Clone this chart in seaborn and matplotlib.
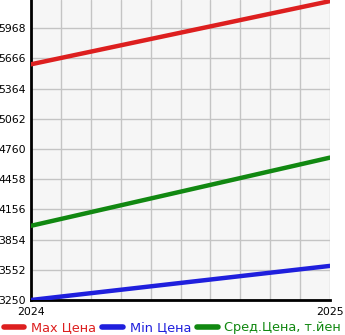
import matplotlib
matplotlib.use("Agg")
import matplotlib.pyplot as plt
import seaborn as sns
import pandas as pd
import numpy as np
from matplotlib.ticker import MultipleLocator, FixedLocator
from matplotlib.lines import Line2D

years = [2024, 2025]
max_price = [5607, 6239]
min_price = [3250, 3591]
avg_price = [3992, 4674]
series_names = ["Max Цена", "Min Цена", "Сред.Цена, т.йен"]
colors = ["#dd1f1f", "#1f1fdd", "#118811"]
ytick_vals = [3250, 3552, 3854, 4156, 4458, 4760, 5062, 5364, 5666, 5968]

df = pd.DataFrame({
    "year": years * 3,
    "price": max_price + min_price + avg_price,
    "series": [series_names[0]] * 2 + [series_names[1]] * 2 + [series_names[2]] * 2,
})

sns.set_style("white")
plt.rcParams['font.family'] = ['DejaVu Sans']

fig = plt.figure(figsize=(3.45, 3.35), dpi=100)
ax = fig.add_axes([31/345, 35/335, 299/345, 300/335])
ax.set_facecolor("#f6f6f6")

sns.lineplot(data=df, x="year", y="price", hue="series", palette=colors,
             linewidth=3.2, ax=ax, legend=False, solid_capstyle="round", zorder=3)

ax.set_xlim(2024, 2025)
ax.set_ylim(3250, 6250)
ax.xaxis.set_major_locator(FixedLocator([2024, 2025]))
ax.xaxis.set_minor_locator(MultipleLocator(0.1))
ax.set_xticklabels(["2024", "2025"])
ax.yaxis.set_major_locator(FixedLocator(ytick_vals))
ax.yaxis.set_minor_locator(FixedLocator([6270]))
ax.set_yticklabels([str(v) for v in ytick_vals])
ax.grid(True, which="both", color="#c4c4c4", linewidth=1.0, zorder=0)
ax.tick_params(axis="both", which="both", labelsize=7.8, length=3, width=1,
               color="black", labelcolor="black", pad=0.5)
ax.tick_params(axis="x", which="major", pad=2)
ax.set_xlabel("")
ax.set_ylabel("")
for s in ["top", "right"]:
    ax.spines[s].set_visible(False)
for s in ["left", "bottom"]:
    ax.spines[s].set_linewidth(2)
    ax.spines[s].set_color("black")

handles = [Line2D([0], [0], color=c, linewidth=4, solid_capstyle="round") for c in colors]
leg = fig.legend(handles, series_names, loc="lower center", bbox_to_anchor=(0.5, 0.002),
                 ncol=3, frameon=False, fontsize=9.3, handlelength=1.6, handletextpad=0.5,
                 columnspacing=0.5, borderaxespad=0.0, borderpad=0.0)
for t, c in zip(leg.get_texts(), colors):
    t.set_color(c)

fig.savefig("out.png", dpi=100)
